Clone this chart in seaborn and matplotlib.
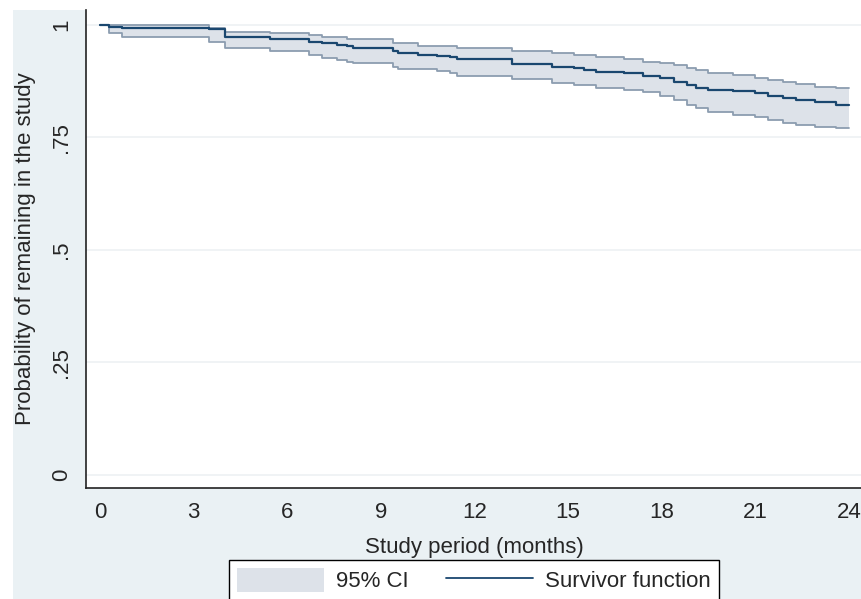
import numpy as np
import pandas as pd
import seaborn as sns
from matplotlib import pyplot as plt
from matplotlib.patches import Rectangle, Patch
from matplotlib.lines import Line2D

# 生存曲线数据
months = [0, 0.3, 0.7, 3.5, 4.0, 5.45, 6.7, 7.1, 7.6, 7.9, 8.1, 9.4, 9.55, 10.2, 10.8,
          11.2, 11.45, 13.2, 14.5, 15.2, 15.5, 15.9, 16.8, 17.4, 17.95, 18.4, 18.8,
          19.1, 19.5, 20.3, 21.0, 21.4, 21.9, 22.3, 22.9, 23.6, 24.0]
survivor = [1.0, 0.996, 0.993, 0.990, 0.974, 0.968, 0.963, 0.959, 0.956, 0.952, 0.948,
            0.943, 0.938, 0.933, 0.931, 0.928, 0.924, 0.913, 0.907, 0.904, 0.900, 0.896,
            0.893, 0.887, 0.881, 0.874, 0.866, 0.860, 0.855, 0.852, 0.848, 0.843, 0.838,
            0.833, 0.828, 0.822, 0.822]
ci_lower = [1.0, 0.982, 0.973, 0.963, 0.948, 0.941, 0.933, 0.926, 0.922, 0.918, 0.915,
            0.907, 0.901, 0.901, 0.898, 0.893, 0.887, 0.880, 0.870, 0.866, 0.866, 0.860,
            0.855, 0.850, 0.843, 0.833, 0.822, 0.815, 0.806, 0.800, 0.796, 0.789, 0.783,
            0.778, 0.774, 0.770, 0.770]
ci_upper = [1.0, 1.0, 1.0, 0.994, 0.985, 0.981, 0.978, 0.974, 0.972, 0.968, 0.968,
            0.959, 0.959, 0.954, 0.952, 0.952, 0.948, 0.942, 0.937, 0.932, 0.932, 0.928,
            0.924, 0.918, 0.915, 0.910, 0.904, 0.899, 0.893, 0.889, 0.883, 0.878, 0.872,
            0.868, 0.863, 0.860, 0.860]
x_ticks = [0, 3, 6, 9, 12, 15, 18, 21, 24]
y_ticks = [0, 0.25, 0.5, 0.75, 1]
y_tick_labels = ['0', '.25', '.5', '.75', '1']

df = pd.DataFrame({'t': months, 's': survivor, 'lo': ci_lower, 'hi': ci_upper})

navy = '#1a476f'
ci_fill = '#dde2e9'
ci_edge = '#8c9db0'
bg = '#eaf1f4'
fs = 16

sns.set_style('white')
plt.rcParams['font.family'] = ['Liberation Sans', 'DejaVu Sans']

fig = plt.figure(figsize=(8.62, 5.99), dpi=100, facecolor='white')
# Stata风格外背景
fig.patches.append(Rectangle((13 / 862, 0), 1, 1 - 10 / 599, transform=fig.transFigure,
                             facecolor=bg, edgecolor='none', zorder=-10))
ax = fig.add_axes([86 / 862, 1 - 488 / 599, 1 - 86 / 862, (488 - 10) / 599])
ax.set_facecolor('white')

for yv in y_ticks:
    ax.axhline(yv, color='#edf1f3', lw=1.2, zorder=0)

ax.fill_between(df['t'], df['lo'], df['hi'], step='post', color=ci_fill, lw=0, zorder=1)
sns.lineplot(data=df, x='t', y='lo', drawstyle='steps-post', color=ci_edge, lw=1.3, ax=ax, zorder=2)
sns.lineplot(data=df, x='t', y='hi', drawstyle='steps-post', color=ci_edge, lw=1.3, ax=ax, zorder=2)
sns.lineplot(data=df, x='t', y='s', drawstyle='steps-post', color=navy, lw=1.6, ax=ax, zorder=3)

ax.set_xlim(-0.45, 24.42)
ax.set_ylim(-0.029, 1.033)
ax.set_xticks(x_ticks)
ax.set_xticklabels([str(v) for v in x_ticks], fontsize=fs)
ax.set_yticks(y_ticks)
ax.set_yticklabels(y_tick_labels, fontsize=fs, rotation=90, va='center')
ax.tick_params(axis='both', direction='out', length=6, width=1, color='#444444', pad=4)
for side in ['top', 'right']:
    ax.spines[side].set_visible(False)
for side in ['left', 'bottom']:
    ax.spines[side].set_color('#222222')
    ax.spines[side].set_linewidth(1.2)

ax.set_xlabel('Study period (months)', fontsize=fs, labelpad=10)
ax.set_ylabel('Probability of remaining in the study', fontsize=fs, labelpad=11)

handles = [Patch(facecolor=ci_fill, edgecolor='none'),
           Line2D([0], [0], color=navy, lw=1.3)]
leg = fig.legend(handles, ['95% CI', 'Survivor function'], loc='upper center',
                 bbox_to_anchor=(474 / 862, 1 - 560 / 599), ncol=2, fontsize=fs,
                 frameon=True, fancybox=False, edgecolor='black', framealpha=1,
                 handlelength=3.9, handleheight=1.3, handletextpad=0.55, columnspacing=1.7,
                 borderpad=0.35, borderaxespad=0)
leg.get_frame().set_linewidth(1.0)

fig.savefig('out.png', dpi=100, facecolor=fig.get_facecolor())
